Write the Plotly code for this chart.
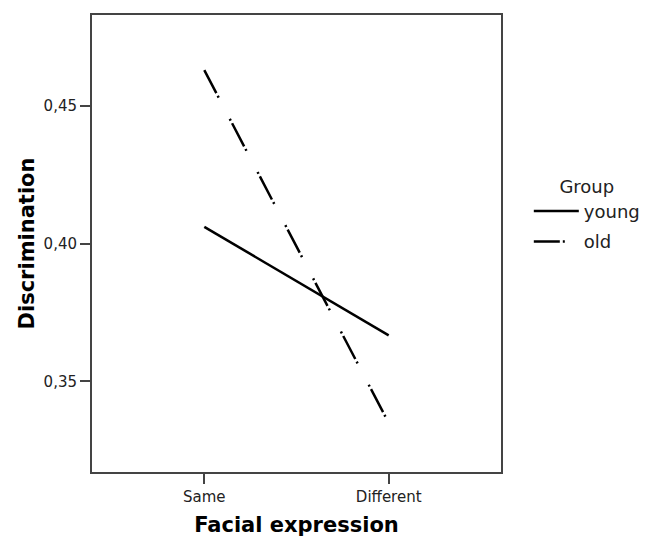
import plotly.graph_objects as go

categories = ["Same", "Different"]
young = [0.4061, 0.3667]
old = [0.4630, 0.3349]
y_ticks = [0.35, 0.40, 0.45]
y_tick_labels = ["0,35", "0,40", "0,45"]

FONT = "DejaVu Sans, Liberation Sans, Arial, sans-serif"

fig = go.Figure()
fig.add_trace(go.Scatter(x=[0, 1], y=young, mode="lines", name="young", legendgroup="a",
                         line=dict(color="black", width=2.5, dash="solid")))
fig.add_trace(go.Scatter(x=[0, 1], y=old, mode="lines", name="old", legendgroup="b",
                         line=dict(color="black", width=2.5, dash="26px,3px,2px,24px,2px,3px")))

axis_font = dict(family=FONT, size=15, color="#222")
title_font = dict(family=FONT, size=21, weight="bold", color="black")
fig.update_layout(
    width=643, height=533,
    margin=dict(l=84, r=150, t=5, b=69),
    paper_bgcolor="white", plot_bgcolor="white",
    font=dict(family=FONT, color="#222"),
    xaxis=dict(range=[-0.609, 1.609], tickvals=[0, 1], ticktext=categories,
               showgrid=False, zeroline=False, showline=True, mirror=True,
               linecolor="#444", linewidth=2, ticks="outside", ticklen=10,
               tickwidth=2, tickcolor="#444", tickfont=axis_font,
               title=dict(text="Facial expression", standoff=12, font=title_font)),
    yaxis=dict(range=[0.3171, 0.4830], tickvals=y_ticks, ticktext=y_tick_labels,
               showgrid=False, zeroline=False, showline=True, mirror=True,
               linecolor="#444", linewidth=2, ticks="outside", ticklen=10,
               tickwidth=2, tickcolor="#444", tickfont=axis_font,
               title=dict(text="Discrimination", standoff=3, font=title_font)),
    legend=dict(x=1.068, y=0.662, xanchor="left", yanchor="top",
                title=dict(text="Group", side="top center", font=dict(size=18, family=FONT)),
                font=dict(size=18, family=FONT), traceorder="grouped", tracegroupgap=4,
                itemwidth=45, bgcolor="rgba(0,0,0,0)"),
    showlegend=True,
)
fig.write_html("out.html")
